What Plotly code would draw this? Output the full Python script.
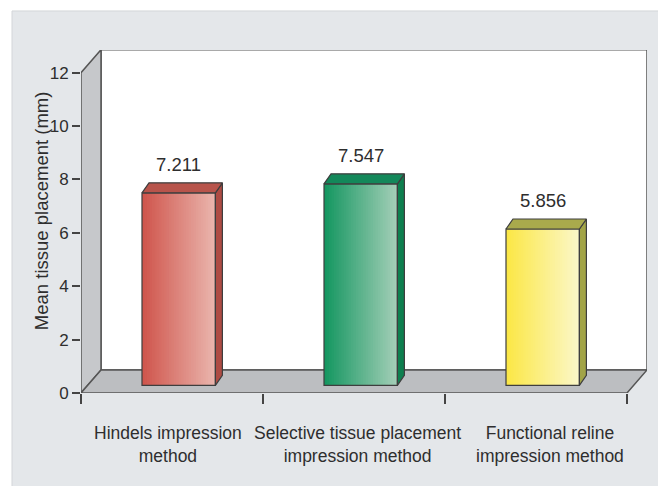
import plotly.graph_objects as go

# ---------------- data ----------------
categories = ["Hindels impression<br>method",
              "Selective tissue placement<br>impression method",
              "Functional reline<br>impression method"]
values = [7.211, 7.547, 5.856]
value_labels = ["7.211", "7.547", "5.856"]
y_ticks = [0, 2, 4, 6, 8, 10, 12]
y_title = "Mean tissue placement (mm)"

front_left = ["#cf544b", "#139660", "#fbe744"]
front_right = ["#eab6ae", "#a5cfb8", "#fbf7ca"]
side_colors = ["#ae4b43", "#0e7f4f", "#a2a447"]
top_colors = ["#b8544b", "#13885a", "#a9aa4c"]

# ---------------- geometry (pixel based) ----------------
OFF = 8                      # page body margin of the html page
W, H = 666 - OFF, 486 - OFF
ML, MT = 81 - OFF, 50 - OFF
MR = W - (647 - OFF)
MB = H - (392.7 - OFF)
PX_X = 182.0                 # px per category
PX_Y = 320.0 / 12.0          # px per unit
DX = 20.0 / PX_X             # depth of 3D box in x units
DY = 23.0 / PX_Y             # depth of 3D box in y units
F = 0.335                    # bar front depth fraction
BW = 73.4 / PX_X             # bar width
BDX = 7.0 / PX_X
BDY = 10.0 / PX_Y
YMAX = 12
XMAX = len(values)
LINE = "#555555"
TXT = "#2e2e2e"
FONT = "Liberation Sans, Arial, sans-serif"

pw = W - ML - MR
ph = H - MT - MB
Y0PX = 392.7                 # page y of value 0


def py(ypage):
    return (Y0PX - ypage) / ph


def px(xpage):
    return (xpage - 81) / pw


def mix(c1, c2, t):
    a = [int(c1[i:i + 2], 16) for i in (1, 3, 5)]
    b = [int(c2[i:i + 2], 16) for i in (1, 3, 5)]
    return "rgb(%d,%d,%d)" % tuple(round(a[j] + (b[j] - a[j]) * t) for j in range(3))


def path(xs, ys):
    return "M " + " L ".join("%.5f,%.5f" % (x, y) for x, y in zip(xs, ys)) + " Z"


fig = go.Figure()

shapes = [
    dict(type="rect", xref="paper", yref="paper", layer="below",
         x0=px(12), x1=px(680), y0=py(500), y1=py(11),
         fillcolor="#e4e7ea", line=dict(color="#d3d6d9", width=1)),
    dict(type="path", xref="x", yref="y", layer="below",
         path=path([DX, XMAX + DX, XMAX + DX, DX], [DY, DY, YMAX + DY, YMAX + DY]),
         fillcolor="#ffffff", line=dict(color=LINE, width=1.5)),
    dict(type="path", xref="x", yref="y", layer="below",
         path=path([0, DX, DX, 0], [0, DY, YMAX + DY, YMAX]),
         fillcolor="#c6c8cb", line=dict(color=LINE, width=1.5)),
    dict(type="path", xref="x", yref="y", layer="below",
         path=path([0, XMAX, XMAX + DX, DX], [0, 0, DY, DY]),
         fillcolor="#bcbec1", line=dict(color=LINE, width=1.5)),
]


def poly(xs, ys, fill, lw=1.2, lc="#3e3e3e"):
    fig.add_trace(go.Scatter(x=xs + [xs[0]], y=ys + [ys[0]], mode="lines",
                             fill="toself", fillcolor=fill,
                             line=dict(color=lc, width=lw),
                             hoverinfo="skip", showlegend=False))


n = len(values)
xc = [i + 0.5 + F * DX for i in range(n)]
b0 = F * DY
N = 30
for k in range(N):
    t = (k + 0.5) / N
    fig.add_trace(go.Bar(
        x=xc, y=values, base=[b0] * n,
        width=[BW * (1 - k / N)] * n,
        offset=[-BW / 2 + k * BW / N] * n,
        marker=dict(color=[mix(front_left[i], front_right[i], t) for i in range(n)],
                    line=dict(width=0)),
        hoverinfo="skip", showlegend=False))
fig.add_trace(go.Bar(
    x=xc, y=values, base=[b0] * n, width=[BW] * n, offset=[-BW / 2] * n,
    marker=dict(color="rgba(0,0,0,0)", line=dict(color="#3e3e3e", width=1.2)),
    hoverinfo="skip", showlegend=False))

for i, v in enumerate(values):
    xl, xr = xc[i] - BW / 2, xc[i] + BW / 2
    yt = b0 + v
    poly([xr, xr, xr + BDX, xr + BDX], [b0, yt, yt + BDY, b0 + BDY], side_colors[i])
    poly([xl, xl + BDX, xr + BDX, xr], [yt, yt + BDY, yt + BDY, yt], top_colors[i])

annotations = []
for i, v in enumerate(values):
    annotations.append(dict(x=xc[i], y=b0 + v + BDY, xref="x", yref="y",
                            text=value_labels[i], showarrow=False,
                            yanchor="middle", yshift=18,
                            font=dict(family=FONT, size=18.5, color=TXT)))

label_shift = [-4, 3, 14]
for i, c in enumerate(categories):
    annotations.append(dict(x=i + 0.5, y=py(444), xref="x", yref="paper",
                            text=c, showarrow=False, xshift=label_shift[i],
                            yanchor="middle", align="center",
                            font=dict(family=FONT, size=17.5, color=TXT)))

annotations.append(dict(x=px(41), y=py(211), xref="paper", yref="paper",
                        text=y_title, textangle=-90,
                        showarrow=False, xanchor="center", yanchor="middle",
                        font=dict(family=FONT, size=18.5, color=TXT)))

fig.update_layout(
    width=W, height=H,
    margin=dict(l=ML, r=MR, t=MT, b=MB, pad=0),
    paper_bgcolor="#ffffff",
    plot_bgcolor="rgba(0,0,0,0)",
    barmode="overlay",
    showlegend=False,
    annotations=annotations,
    shapes=shapes,
    xaxis=dict(range=[0, pw / PX_X], showgrid=False, zeroline=False, showline=False,
               tickvals=[], showticklabels=False, fixedrange=True,
               minor=dict(tickvals=list(range(XMAX + 1)), ticks="outside",
                          ticklen=10, tickcolor="#444444", tickwidth=1.5)),
    yaxis=dict(range=[0, ph / PX_Y], showgrid=False, zeroline=False, showline=False,
               tickvals=y_ticks, ticktext=[str(t) for t in y_ticks],
               ticks="outside", ticklen=8, tickcolor="#444444", tickwidth=1.5,
               tickfont=dict(family=FONT, size=17, color=TXT), fixedrange=True),
)

fig.write_html("out.html")
